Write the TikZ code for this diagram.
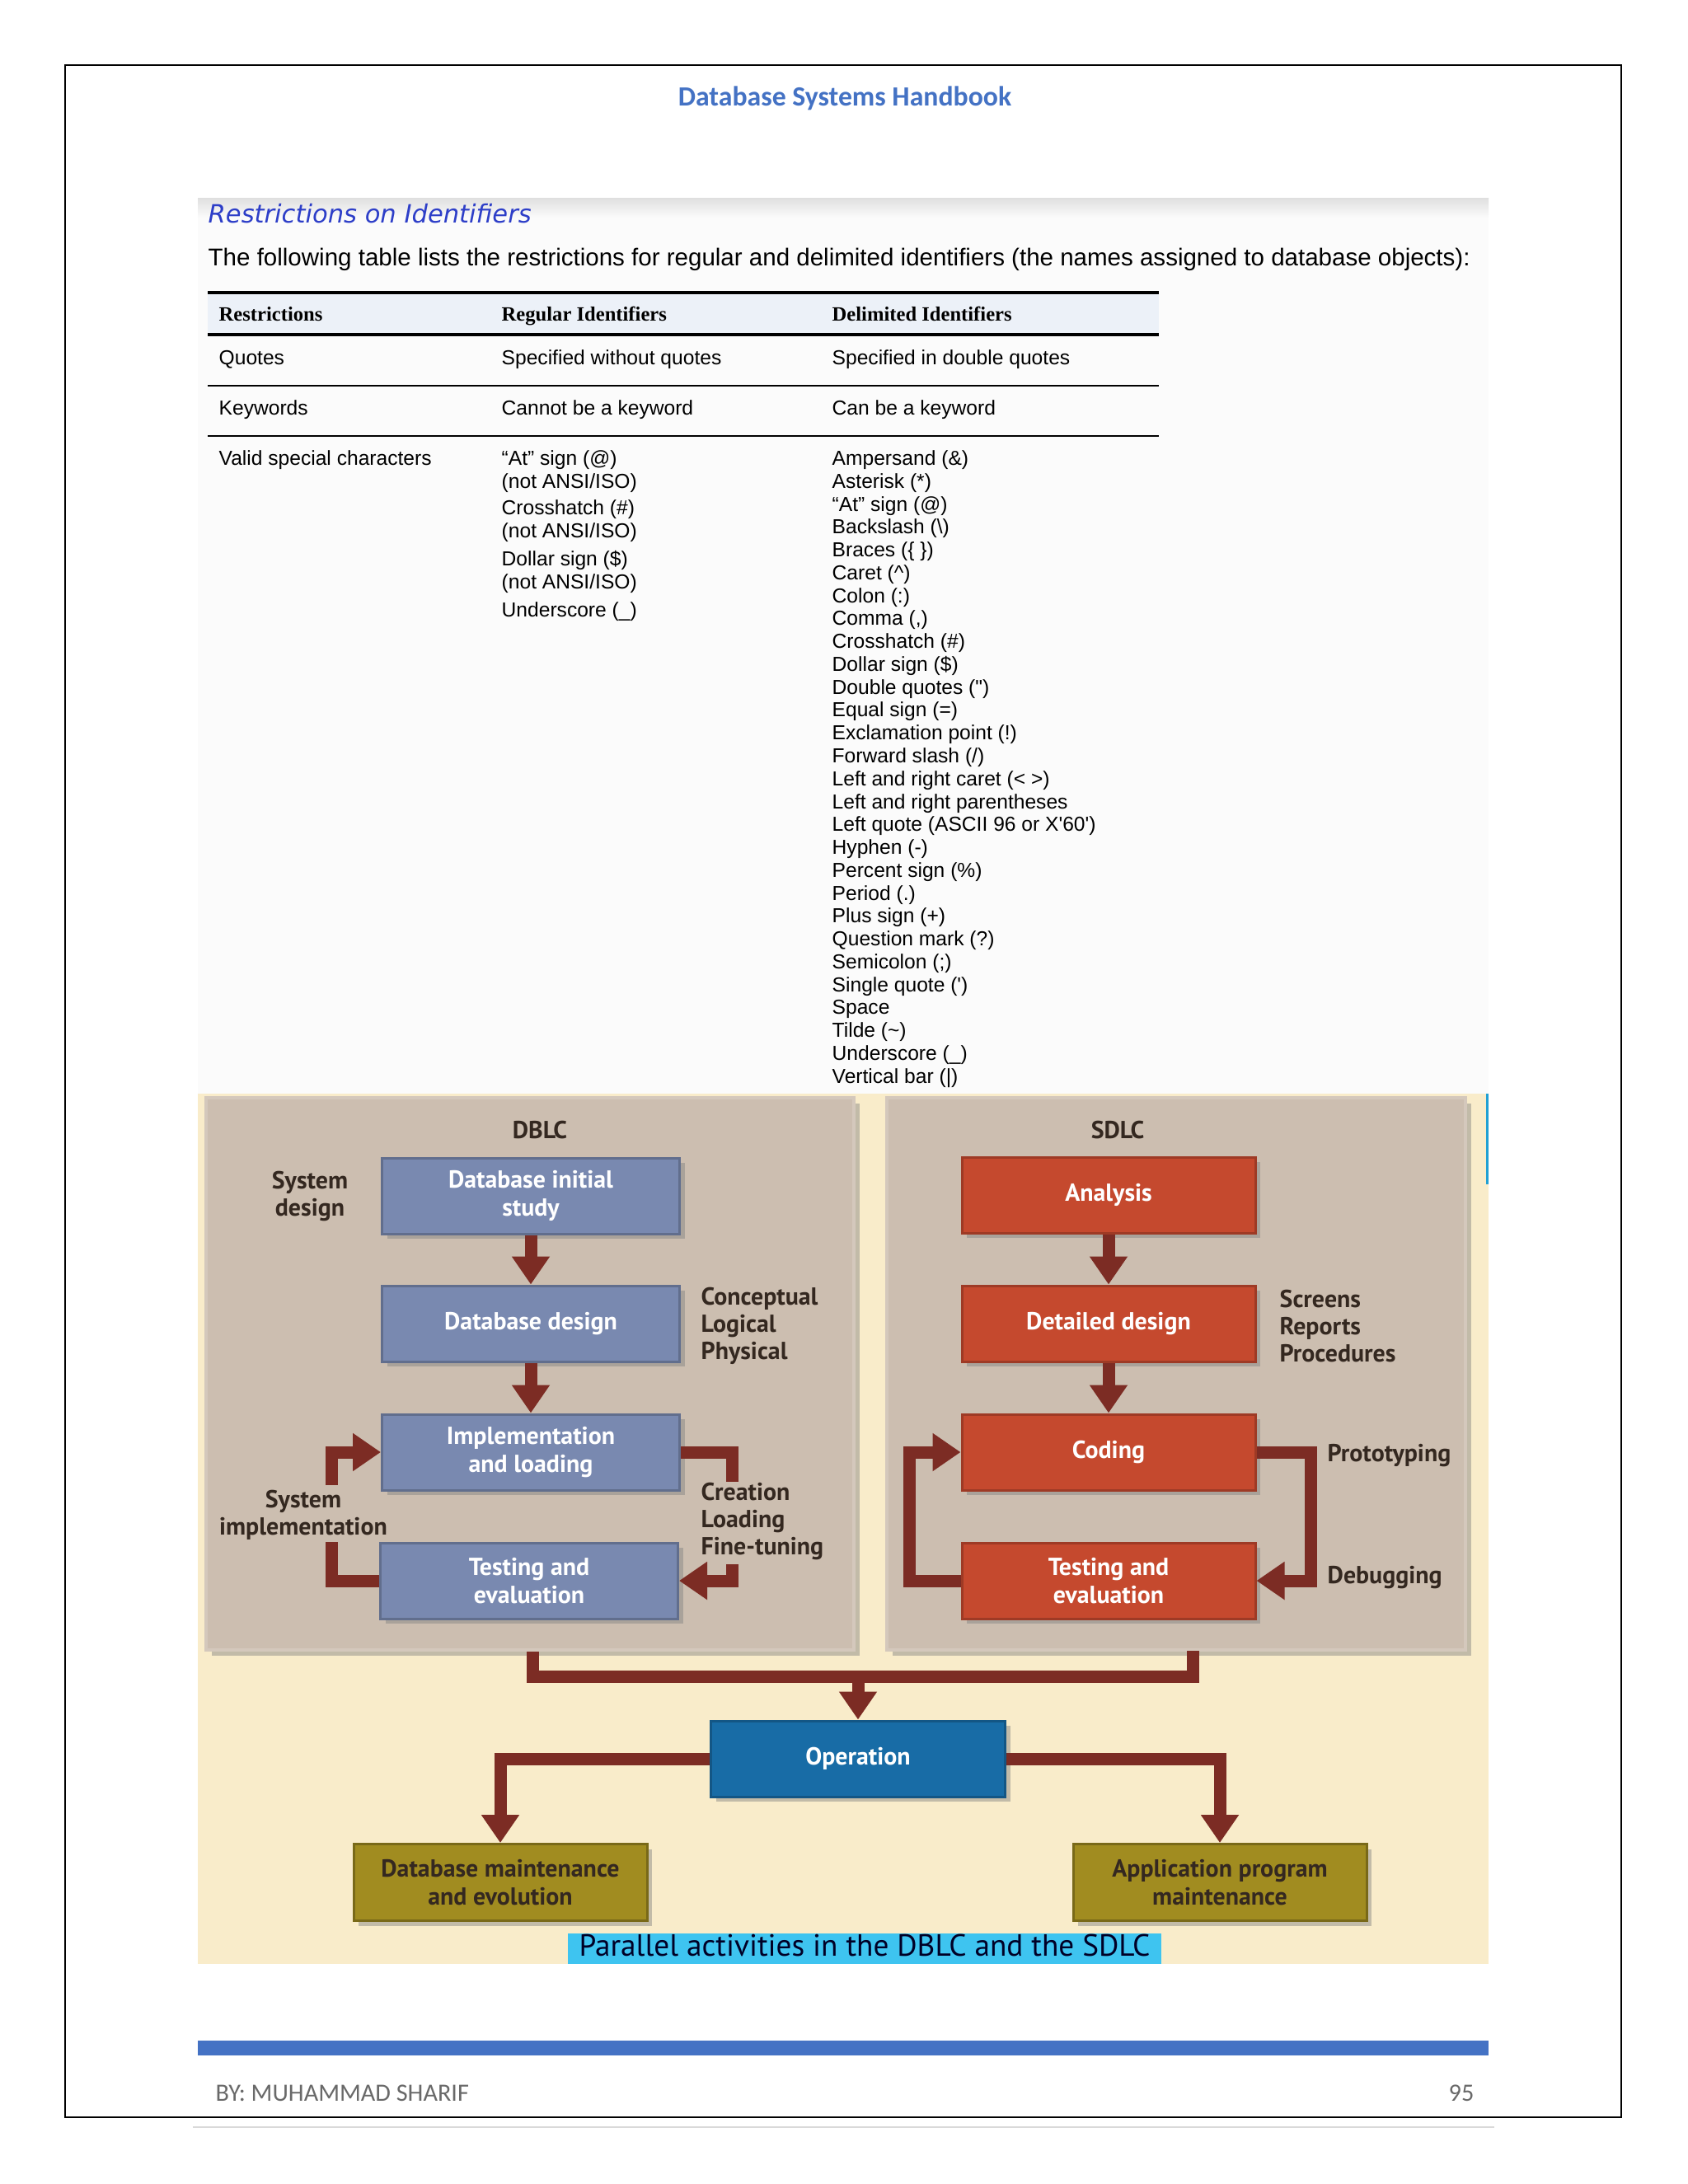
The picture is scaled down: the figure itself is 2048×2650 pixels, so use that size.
\documentclass[tikz,border=0pt]{standalone}
\usepackage{fontspec}
\setmainfont{Liberation Sans}
\newfontfamily\calfont{Carlito}
\newfontfamily\timesfont{Liberation Serif}
\newfontfamily\verdfont{DejaVu Sans}
\newfontfamily\figfont{PT Sans}
\usetikzlibrary{arrows.meta,shadows}

\definecolor{hdblue}{RGB}{68,114,196}
\definecolor{secblue}{RGB}{45,62,200}
\definecolor{tblhead}{RGB}{236,241,248}
\definecolor{bgbeige}{RGB}{249,236,202}
\definecolor{panelgray}{RGB}{204,190,176}
\definecolor{dbblue}{RGB}{121,137,176}
\definecolor{sdred}{RGB}{197,73,46}
\definecolor{opblue}{RGB}{24,108,166}
\definecolor{olive}{RGB}{161,140,32}
\definecolor{flowred}{RGB}{124,44,36}
\definecolor{labeldark}{RGB}{52,40,32}
\definecolor{capcyan}{RGB}{62,196,240}
\definecolor{footgray}{RGB}{105,105,105}

\tikzset{
panel/.style={fill=panelgray, draw=panelgray!85!white, line width=0.4mm,
  drop shadow={shadow xshift=0.7mm, shadow yshift=-0.7mm, opacity=0.45}},
stepbox/.style={minimum height=9.2mm, align=center, inner sep=0,
  font=\figfont\bfseries\fontsize{8.5}{9.8}\selectfont, line width=0.3mm,
  drop shadow={shadow xshift=0.6mm, shadow yshift=-0.6mm, opacity=0.45}},
dbstep/.style={stepbox, fill=dbblue, draw=dbblue!80!black, text=white, minimum width=36.1mm},
sdstep/.style={stepbox, fill=sdred, draw=sdred!80!black, text=white, minimum width=35.6mm},
opstep/.style={stepbox, fill=opblue, draw=opblue!80!black, text=white, minimum width=35.7mm},
mtstep/.style={stepbox, fill=olive, draw=olive!75!black, text=labeldark, minimum width=35.6mm, minimum height=9.3mm},
lbl/.style={font=\figfont\bfseries\fontsize{8.5}{9.4}\selectfont, text=labeldark, inner sep=0},
flow/.style={draw=flowred, line width=1.5mm, line join=miter},
flowarrow/.style={flow, -{Triangle[width=4.4mm,length=3.4mm]}},
cell/.style={font=\fontsize{7}{7.97}\selectfont, inner sep=0, anchor=base west},
headcell/.style={font=\timesfont\bfseries\fontsize{7}{8}\selectfont, inner sep=0, anchor=base west},
foot/.style={font=\calfont\fontsize{8.6}{10}\selectfont, text=footgray, inner sep=0}
}

\begin{document}
\begin{tikzpicture}[x=0.1mm,y=-0.1mm]

\useasboundingbox[fill=white] (0,0) rectangle (2048,2650);

%%%%%%%%%%%%%%%%%%%%%%%%%%%%%%%%%%%%%%%%%%%%%%%%%%%%%%%%%%
% PAGE FRAME AND HEADER
%%%%%%%%%%%%%%%%%%%%%%%%%%%%%%%%%%%%%%%%%%%%%%%%%%%%%%%%%%

\node[
draw,
line width=0.25mm,
minimum width=188.8mm,
minimum height=249mm,
inner sep=0
](frame) at (1023,1324){};

\node[font=\calfont\bfseries\fontsize{9.6}{11}\selectfont, text=hdblue](booktitle)
at (1025,119) {Database Systems Handbook};

%%%%%%%%%%%%%%%%%%%%%%%%%%%%%%%%%%%%%%%%%%%%%%%%%%%%%%%%%%
% TABLE AREA
%%%%%%%%%%%%%%%%%%%%%%%%%%%%%%%%%%%%%%%%%%%%%%%%%%%%%%%%%%

\fill[gray!3] (240,262) rectangle (1806,1327);
\shade[top color=gray!25, bottom color=gray!3] (240,240) rectangle (1806,264);

\node[font=\verdfont\itshape\fontsize{8.7}{10}\selectfont, text=secblue, anchor=west, inner sep=0](sectitle)
at (252,259) {Restrictions on Identifiers};

\node[font=\fontsize{8.4}{10}\selectfont, anchor=west, inner sep=0](intro)
at (252,315) {The following table lists the restrictions for regular and delimited identifiers (the names assigned to database objects):};

\fill[tblhead] (252,355) rectangle (1406,406);
\draw[line width=0.4mm] (252,355) -- (1406,355);
\draw[line width=0.4mm] (252,406) -- (1406,406);
\draw[line width=0.25mm] (252,468) -- (1406,468);
\draw[line width=0.25mm] (252,529) -- (1406,529);

\node[headcell](hrestr) at (265,389) {Restrictions};
\node[headcell](hreg) at (608,389) {Regular Identifiers};
\node[headcell](hdelim) at (1009,389) {Delimited Identifiers};

\node[cell](quotes) at (265,442) {Quotes};
\node[cell](quotesreg) at (608,442) {Specified without quotes};
\node[cell](quotesdelim) at (1009,442) {Specified in double quotes};

\node[cell](keywords) at (265,503) {Keywords};
\node[cell](keywordsreg) at (608,503) {Cannot be a keyword};
\node[cell](keywordsdelim) at (1009,503) {Can be a keyword};

\node[cell](special) at (265,564) {Valid special characters};

\node[cell, anchor=north west, align=left](specialreg) at (608,546)
{“At” sign (@)\\(not ANSI/ISO)\\[1.1pt]Crosshatch (\#)\\(not ANSI/ISO)\\[1.7pt]Dollar sign (\$)\\(not ANSI/ISO)\\[1.7pt]Underscore (\_)};

\node[cell, anchor=north west, align=left, font=\fontsize{7}{7.9}\selectfont](specialdelim) at (1009,546)
{Ampersand (\&)\\Asterisk (*)\\“At” sign (@)\\Backslash (\textbackslash)\\Braces (\{ \})\\Caret (\textasciicircum)\\Colon (:)\\Comma (,)\\Crosshatch (\#)\\Dollar sign (\$)\\Double quotes (\textquotedbl)\\Equal sign (=)\\Exclamation point (!)\\Forward slash (/)\\Left and right caret (< >)\\Left and right parentheses\\Left quote (ASCII 96 or X\textquotesingle 60\textquotesingle)\\Hyphen (-)\\Percent sign (\%)\\Period (.)\\Plus sign (+)\\Question mark (?)\\Semicolon (;)\\Single quote (\textquotesingle)\\Space\\Tilde (\textasciitilde)\\Underscore (\_)\\Vertical bar (|)};

%%%%%%%%%%%%%%%%%%%%%%%%%%%%%%%%%%%%%%%%%%%%%%%%%%%%%%%%%%
% DIAGRAM BACKGROUND AND PANELS
%%%%%%%%%%%%%%%%%%%%%%%%%%%%%%%%%%%%%%%%%%%%%%%%%%%%%%%%%%

\fill[bgbeige] (240,1327) rectangle (1806,2383);
\draw[cyan!70!teal, line width=0.3mm] (1804,1327) -- (1804,1437);

\node[panel, minimum width=78.6mm, minimum height=67mm](dblc) at (643,1667){};
\node[panel, minimum width=70.2mm, minimum height=67mm](sdlc) at (1427,1667){};

\node[lbl](dblctitle) at (655,1371) {DBLC};
\node[lbl](sdlctitle) at (1356,1371) {SDLC};

%%%%%%%%%%%%%%%%%%%%%%%%%%%%%%%%%%%%%%%%%%%%%%%%%%%%%%%%%%
% DBLC STEPS
%%%%%%%%%%%%%%%%%%%%%%%%%%%%%%%%%%%%%%%%%%%%%%%%%%%%%%%%%%

\node[dbstep](initial) at (644,1451) {Database initial\\study};
\node[dbstep](design) at (644,1606) {Database design};
\node[dbstep](implement) at (644,1762) {Implementation\\and loading};
\node[dbstep](dbtest) at (642,1918) {Testing and\\evaluation};

\node[lbl, align=center](sysdesign) at (376,1451) {System\\design};
\node[lbl, align=left, anchor=west](models) at (850,1609) {Conceptual\\Logical\\Physical};
\node[lbl, align=left, anchor=west](loadsteps) at (850,1846) {Creation\\Loading\\Fine-tuning};
\node[lbl, align=center](sysimpl) at (368,1838) {System\\implementation};

%%%%%%%%%%%%%%%%%%%%%%%%%%%%%%%%%%%%%%%%%%%%%%%%%%%%%%%%%%
% SDLC STEPS
%%%%%%%%%%%%%%%%%%%%%%%%%%%%%%%%%%%%%%%%%%%%%%%%%%%%%%%%%%

\node[sdstep](analysis) at (1345,1450) {Analysis};
\node[sdstep](detailed) at (1345,1606) {Detailed design};
\node[sdstep](coding) at (1345,1762) {Coding};
\node[sdstep](sdtest) at (1345,1918) {Testing and\\evaluation};

\node[lbl, align=left, anchor=west](outputs) at (1552,1609) {Screens\\Reports\\Procedures};
\node[lbl, anchor=west](proto) at (1610,1766) {Prototyping};
\node[lbl, anchor=west](debug) at (1610,1914) {Debugging};

%%%%%%%%%%%%%%%%%%%%%%%%%%%%%%%%%%%%%%%%%%%%%%%%%%%%%%%%%%
% OPERATION AND MAINTENANCE
%%%%%%%%%%%%%%%%%%%%%%%%%%%%%%%%%%%%%%%%%%%%%%%%%%%%%%%%%%

\node[opstep](operation) at (1041,2134) {Operation};
\node[mtstep](dbmaint) at (607,2284) {Database maintenance\\and evolution};
\node[mtstep](appmaint) at (1480,2284) {Application program\\maintenance};

\node[fill=capcyan, minimum width=72mm, minimum height=3.7mm, inner sep=0,
text height=2.6mm, text depth=0.8mm,
font=\figfont\fontsize{10.6}{12}\selectfont, text=black!85!blue](caption)
at (1049,2364) {Parallel activities in the DBLC and the SDLC};

%%%%%%%%%%%%%%%%%%%%%%%%%%%%%%%%%%%%%%%%%%%%%%%%%%%%%%%%%%
% CONNECTIONS
%%%%%%%%%%%%%%%%%%%%%%%%%%%%%%%%%%%%%%%%%%%%%%%%%%%%%%%%%%

\coordinate (cutA) at (888,1798);
\coordinate (cutB) at (888,1898);
\coordinate (cutC) at (402,1871);
\coordinate (cutD) at (402,1802);
\coordinate (sdright) at (1590,1840);
\coordinate (sdleft) at (1103,1840);
\coordinate (join) at (1041,2034);
\coordinate (sdstub) at (1447,2003);

\draw[flowarrow] (initial)--(design);
\draw[flowarrow] (design)--(implement);
\draw[flow] (implement.east) -| (cutA);
\draw[flowarrow] (cutB) |- (dbtest.east);
\draw[flow] (dbtest.west) -| (cutC);
\draw[flowarrow] (cutD) |- (implement.west);

\draw[flowarrow] (analysis)--(detailed);
\draw[flowarrow] (detailed)--(coding);
\draw[flowarrow] (coding.east) -| (sdright) |- (sdtest.east);
\draw[flowarrow] (sdtest.west) -| (sdleft) |- (coding.west);

\draw[flow] ([xshift=0.3mm]dblc.south) |- (join) -| (sdstub);
\draw[flowarrow] (join)--(operation);
\draw[flowarrow] (operation.west) -| (dbmaint.north);
\draw[flowarrow] (operation.east) -| (appmaint.north);

%%%%%%%%%%%%%%%%%%%%%%%%%%%%%%%%%%%%%%%%%%%%%%%%%%%%%%%%%%
% FOOTER
%%%%%%%%%%%%%%%%%%%%%%%%%%%%%%%%%%%%%%%%%%%%%%%%%%%%%%%%%%

\fill[hdblue] (240,2476) rectangle (1806,2494);
\node[foot, anchor=west](author) at (261,2540) {BY: MUHAMMAD SHARIF};
\node[foot, anchor=east](pagenum) at (1789,2540) {95};
\draw[gray!30, line width=0.25mm] (234,2581) -- (1813,2581);

\end{tikzpicture}
\end{document}
